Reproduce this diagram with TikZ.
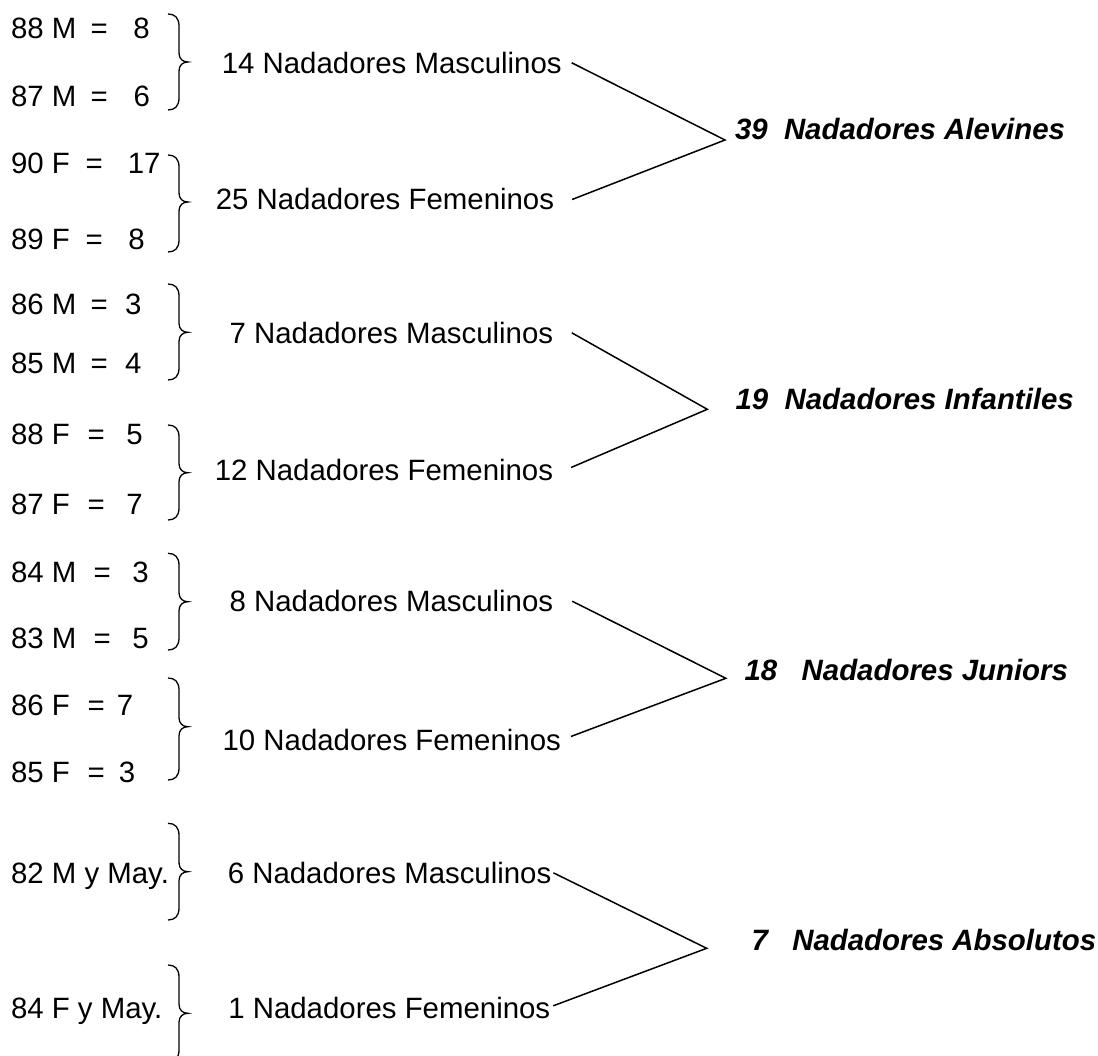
\documentclass[tikz,border=0pt]{standalone}
\usepackage{fontspec}
\setmainfont{Liberation Sans}
\begin{document}
\begin{tikzpicture}[x=1pt,y=-1pt,
  lbl/.style={inner sep=0pt,outer sep=0pt,anchor=base west,font=\fontsize{29.4}{34}\selectfont},
  cat/.style={lbl,font=\fontsize{29.4}{34}\selectfont\bfseries\itshape},
  conn/.style={draw=black,line width=1.5pt},
  bracestyle/.style={draw=black,line width=1.3pt}]
\useasboundingbox (0,0) rectangle (1098,1056);
\clip (0,0) rectangle (1098,1056);
\newcommand\eqlabel[6]{\node[lbl] (#1) at (11,#2) {\rlap{#3}\hspace{#4pt}\rlap{=}\hspace{#5pt}#6};}
\newcommand\curlybrace[3]{\draw[bracestyle] (168,#1) .. controls (175,#1) and (179,#1+4) .. (179,#1+12) -- (179,#2-9) .. controls (179,#2-3) and (183,#2) .. (188,#2) .. controls (183,#2) and (179,#2+3) .. (179,#2+9) -- (179,#3-12) .. controls (179,#3-4) and (175,#3) .. (168,#3);}
% left labels
\eqlabel{a1}{39}{88 M}{79.6}{42.9}{8}
\eqlabel{a2}{107}{87 M}{79.6}{43}{6}
\eqlabel{b1}{174}{90 F}{74.6}{42.2}{17}
\eqlabel{b2}{250}{89 F}{74.6}{42.9}{8}
\eqlabel{c1}{315}{86 M}{79.6}{34.6}{3}
\eqlabel{c2}{373.3}{85 M}{79.6}{34.6}{4}
\eqlabel{d1}{445}{88 F}{76.6}{38.9}{5}
\eqlabel{d2}{514}{87 F}{76.6}{38.9}{7}
\eqlabel{e1}{582}{84 M}{82.6}{38.9}{3}
\eqlabel{e2}{648}{83 M}{82.6}{38.9}{5}
\eqlabel{f1}{715}{86 F}{76.6}{29.4}{7}
\eqlabel{f2}{782}{85 F}{76.6}{31.4}{3}
\node[lbl] (g1) at (11,883.3) {82 M y May.};
\node[lbl] (h1) at (11,1018.3) {84 F y May.};
% braces
\curlybrace{14}{62}{110}
\curlybrace{155}{202}{252}
\curlybrace{284}{332.3}{380}
\curlybrace{425}{472.7}{520}
\curlybrace{553.3}{601.7}{650}
\curlybrace{678}{726.7}{780}
\curlybrace{823.3}{871.7}{920}
\curlybrace{965}{1013.3}{1062}
% middle texts
\node[lbl] (m1) at (221.8,73.3) {14 Nadadores Masculinos};
\node[lbl] (w1) at (215.8,210) {25 Nadadores Femeninos};
\node[lbl] (m2) at (229.6,343.3) {7 Nadadores Masculinos};
\node[lbl] (w2) at (214.8,480) {12 Nadadores Femeninos};
\node[lbl] (m3) at (229.6,611.7) {8 Nadadores Masculinos};
\node[lbl] (w3) at (222.6,750) {10 Nadadores Femeninos};
\node[lbl] (m4) at (227.8,883.3) {6 Nadadores Masculinos};
\node[lbl] (w4) at (228.3,1018.3) {1 Nadadores Femeninos};
% categories
\node[cat] (t1) at (735,140) {39\ \ Nadadores Alevines};
\node[cat] (t2) at (735.6,410) {19\ \ Nadadores Infantiles};
\node[cat] (t3) at (744.5,680) {18\ \ \ Nadadores Juniors};
\node[cat] (t4) at (751.5,950) {7\ \ \ Nadadores Absolutos};
% junction points
\coordinate (j1) at (725,140);
\coordinate (j2) at (707.3,409.3);
\coordinate (j3) at (725.8,678.3);
\coordinate (j4) at (706.7,948.3);
% connectors
\draw[conn] ([xshift=10pt]m1.east) -- (j1) -- ([xshift=18pt]w1.east);
\draw[conn] ([xshift=18.6pt]m2.east) -- (j2) -- ([xshift=18pt,yshift=2pt]w2.east);
\draw[conn] ([xshift=19pt]m3.east) -- (j3) -- ([xshift=10pt,yshift=3pt]w3.east);
\draw[conn] ([xshift=2pt]m4.east) -- (j4) -- ([xshift=3pt,yshift=2pt]w4.east);
\end{tikzpicture}
\end{document}
